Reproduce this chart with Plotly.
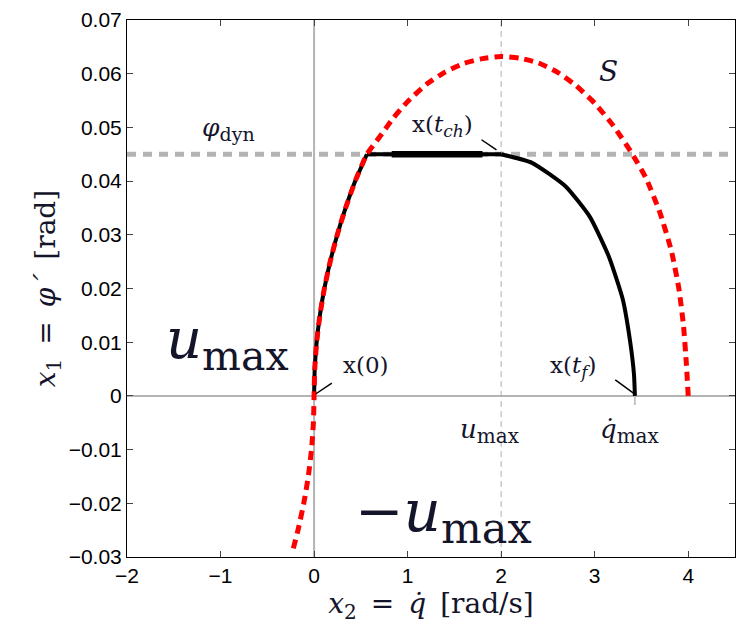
import plotly.graph_objects as go

# S curve (red dotted): left branch (below the corner) and upper/right arch
s_left_x2 = [-0.222, -0.172, -0.11, -0.062, -0.0275, -0.007, 0.0, 0.0069, 0.0275, 0.062, 0.11, 0.172, 0.248,
             0.337, 0.44, 0.565]
s_left_x1 = [-0.0284, -0.025, -0.02, -0.015, -0.01, -0.005, 0.0, 0.005, 0.01, 0.015, 0.02, 0.025, 0.03,
             0.035, 0.04, 0.045]
s_arch_x2 = [0.565, 0.7, 0.85, 1.0, 1.2, 1.4, 1.6, 1.8, 2.0, 2.2, 2.4, 2.6, 2.8, 3.0, 3.2, 3.4, 3.55, 3.7,
             3.82, 3.9, 3.95, 3.98, 4.0]
s_arch_x1 = [0.045, 0.0482, 0.0518, 0.0548, 0.058, 0.0603, 0.0619, 0.0628, 0.0632, 0.0629, 0.062, 0.0603,
             0.0578, 0.0545, 0.0503, 0.0451, 0.0405, 0.034, 0.027, 0.02, 0.013, 0.006, 0.0]

# trajectory (black): rise along S, plateau at phi_dyn, fall to qdot_max
t_rise_x2 = [0.0, 0.0069, 0.0275, 0.062, 0.11, 0.172, 0.248, 0.337, 0.44, 0.565]
t_rise_x1 = [0.0, 0.005, 0.01, 0.015, 0.02, 0.025, 0.03, 0.035, 0.04, 0.045]
t_flat_x2 = [0.565, 2.0]
t_flat_x1 = [0.045, 0.045]
t_fall_x2 = [2.0, 2.33, 2.69, 2.95, 3.15, 3.3, 3.38, 3.42, 3.43]
t_fall_x1 = [0.045, 0.0434, 0.039, 0.0333, 0.026, 0.018, 0.01, 0.004, 0.0]
thick_x2 = [0.83, 1.8]
thick_x1 = [0.045, 0.045]

phi_dyn = 0.045
u_max_x = 2.0

x_ticks = [-2, -1, 0, 1, 2, 3, 4]
x_tick_text = ["\u22122", "\u22121", "0", "1", "2", "3", "4"]
y_ticks = [-0.03, -0.02, -0.01, 0, 0.01, 0.02, 0.03, 0.04, 0.05, 0.06, 0.07]
y_tick_text = ["\u22120.03", "\u22120.02", "\u22120.01", "0", "0.01", "0.02", "0.03", "0.04", "0.05", "0.06", "0.07"]

# leader lines
lead_x0 = ([0.02, 0.19], [0.0004, 0.0024])
lead_tf = ([3.44, 3.22], [0.0002, 0.003])
lead_tch = ([1.79, 1.95], [0.0477, 0.0458])
qmax_tick = ([3.43, 3.43], [0.0, -0.0017])

GRAY = "#b4b4b4"
fig = go.Figure()
fig.add_trace(go.Scatter(x=[0, 0], y=[-0.03, 0.07], mode="lines", line=dict(color=GRAY, width=2)))
fig.add_trace(go.Scatter(x=[-2, 4.5], y=[0, 0], mode="lines", line=dict(color=GRAY, width=2)))
fig.add_trace(go.Scatter(x=[u_max_x, u_max_x], y=[-0.03, 0.07], mode="lines",
                         line=dict(color="#b0b0b0", width=1, dash="6px,4px")))
fig.add_trace(go.Scatter(x=[-2, 4.5], y=[phi_dyn, phi_dyn], mode="lines",
                         line=dict(color=GRAY, width=5, dash="9px,7px")))
fig.add_trace(go.Scatter(x=qmax_tick[0], y=qmax_tick[1], mode="lines", line=dict(color=GRAY, width=1.5)))

BL = dict(color="black", width=4)
fig.add_trace(go.Scatter(x=t_rise_x2, y=t_rise_x1, mode="lines", line=dict(BL, shape="spline", smoothing=0.5)))
fig.add_trace(go.Scatter(x=t_flat_x2, y=t_flat_x1, mode="lines", line=BL))
fig.add_trace(go.Scatter(x=t_fall_x2, y=t_fall_x1, mode="lines", line=dict(BL, shape="spline", smoothing=0.5)))
fig.add_trace(go.Scatter(x=thick_x2, y=thick_x1, mode="lines", line=dict(color="black", width=6.5)))

RED = dict(color="#ff0000", width=5, dash="9px,6px", shape="spline", smoothing=0.5)
fig.add_trace(go.Scatter(x=s_left_x2 + s_arch_x2[1:], y=s_left_x1 + s_arch_x1[1:], mode="lines", line=RED))

for lx, ly in [lead_x0, lead_tf, lead_tch]:
    fig.add_trace(go.Scatter(x=lx, y=ly, mode="lines", line=dict(color="black", width=1.5)))

SERIF = "DejaVu Serif, Liberation Serif, serif"
TXT = "#14142a"


def sub(t, px):
    return "<sub><span style='font-size:%dpx'>%s</span></sub>" % (px, t)


ann = [
    dict(x=-0.93, y=0.0098, text="<i>u</i>" + sub("max", 41), size=56),
    dict(x=1.38, y=-0.0222, text="\u2212<i>u</i>" + sub("max", 43), size=58),
    dict(x=1.88, y=-0.0065, text="<i>u</i>" + sub("max", 20), size=26),
    dict(x=3.38, y=-0.0065, text="<i>q\u0307</i>" + sub("max", 20), size=26),
    dict(x=0.56, y=0.0058, text="x(0)", size=23),
    dict(x=2.77, y=0.0054, text="x(<i>t</i>" + sub("<i>f</i>", 17) + ")", size=23),
    dict(x=1.37, y=0.0503, text="x(<i>t</i>" + sub("<i>ch</i>", 17) + ")", size=23),
    dict(x=-0.92, y=0.0497, text="<i>\u03c6</i>" + sub("dyn", 19), size=25),
    dict(x=3.15, y=0.0605, text="<i>S</i>", size=28),
]
for a in ann:
    fig.add_annotation(x=a["x"], y=a["y"], text=a["text"], showarrow=False,
                       font=dict(family=SERIF, size=a["size"], color=TXT))

SP = "\u2002"
fig.update_layout(
    width=736, height=630, showlegend=False,
    paper_bgcolor="white", plot_bgcolor="white",
    margin=dict(l=127, r=1, t=20, b=73),
    font=dict(family="Liberation Sans, Arial, sans-serif", size=21, color="black"),
)
fig.update_xaxes(range=[-2, 4.5], tickvals=x_ticks, ticktext=x_tick_text, ticks="inside", ticklen=6,
                 showline=True, linecolor="black", linewidth=1, mirror="ticks", showgrid=False, zeroline=False,
                 title=dict(text="<i>x</i>" + sub("2", 20) + SP + "=" + SP + "<i>q\u0307</i>" + SP + "[rad/s]",
                            font=dict(family=SERIF, size=28, color=TXT), standoff=0))
fig.update_yaxes(range=[-0.03, 0.07], tickvals=y_ticks, ticktext=y_tick_text, ticks="inside", ticklen=6,
                 showline=True, linecolor="black", linewidth=1, mirror="ticks", showgrid=False, zeroline=False,
                 title=dict(text="<i>x</i>" + sub("1", 20) + SP + "=" + SP + "<i>\u03c6\u00b4</i>" + SP + "[rad]",
                            font=dict(family=SERIF, size=28, color=TXT), standoff=4))

fig.write_html("out.html")
